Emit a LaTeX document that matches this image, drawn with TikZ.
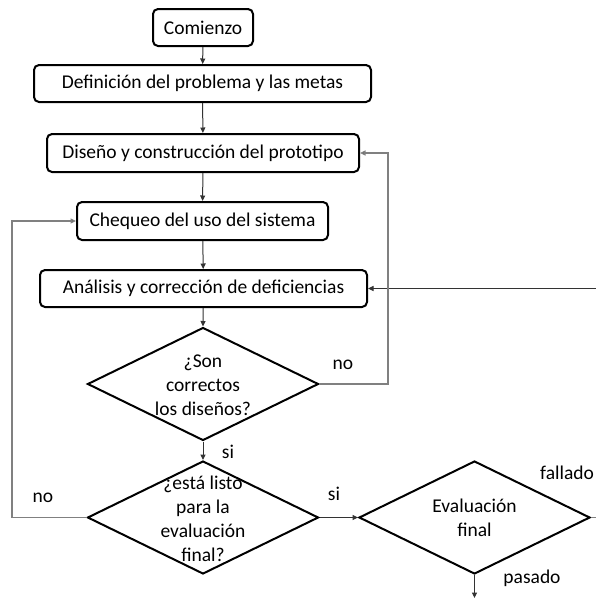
\documentclass[tikz,border=0pt]{standalone}
\usepackage{fontspec}
\setmainfont{Carlito}
\usetikzlibrary{shapes.geometric,arrows.meta}
\begin{document}
\begin{tikzpicture}[x=1pt,y=-1pt,
  txt/.style={font=\fontsize{19.5}{24}\selectfont, inner sep=0pt, align=center},
  stepbox/.style={draw=black, line width=2pt, rounded corners=5pt, inner sep=0pt,
    font=\fontsize{19.5}{24}\selectfont},
  decision/.style={draw=black, line width=2pt, diamond, inner sep=0pt,
    minimum width=231pt, minimum height=113pt},
  flow/.style={draw=black!80, line width=1pt, -{Triangle[length=5.5pt,width=5pt]}},
  loopline/.style={draw=black!50, line width=1.3pt},
  looparrow/.style={loopline, -{Triangle[length=5.5pt,width=5pt,fill=black]}}
]
\useasboundingbox (0,0) rectangle (596,598);

% process boxes
\node[stepbox, minimum width=100pt, minimum height=37pt] (start) at (203,27.5) {Comienzo};
\node[stepbox, minimum width=337pt, minimum height=37pt] (def) at (202.5,83.5) {Definición del problema y las metas};
\node[stepbox, minimum width=312pt, minimum height=38pt] (dis) at (203,153) {Diseño y construcción del prototipo};
\node[stepbox, minimum width=251pt, minimum height=38pt] (cheq) at (202.5,221) {Chequeo del uso del sistema};
\node[stepbox, minimum width=327pt, minimum height=37pt] (ana) at (203.5,288.5) {Análisis y corrección de deficiencias};

% decisions
\node[decision] (d1) at (203,384) {};
\node[txt] (d1t) at (203,385.5) {¿Son\\correctos\\los diseños?};
\node[decision] (d2) at (203,517.5) {};
\node[txt] (d2t) at (203,518.5) {¿está listo\\para la\\evaluación\\final?};
\node[decision] (d3) at (474.5,517.5) {};
\node[txt] (d3t) at (474.5,518) {Evaluación\\final};

% free ends at the border
\coordinate (rloop) at (388,384);
\coordinate (lloop) at (12,517.5);
\coordinate (inR) at (596,288.5);
\coordinate (outB) at (474.5,598);
\coordinate (outR) at (596,517.5);

% main flow
\draw[flow] (start) -- (def);
\draw[flow] (def) -- (dis);
\draw[flow] (dis) -- (cheq);
\draw[flow] (cheq) -- (ana);
\draw[flow] (ana) -- (d1.north);
\draw[flow] (d1.south) -- (d2.north);
\draw[flow] (d2.east) -- (d3.west);
\draw[flow] (d3.south) -- (outB);
\draw[flow] (inR) -- (ana.east);

% loops back
\draw[looparrow] (d1.east) -- (rloop) |- (dis.east);
\draw[looparrow] (d2.west) -- (lloop) |- (cheq.west);
\draw[loopline] (d3.east) -- (outR);

% branch labels
\node[txt] (l1) at (343,365) {no};
\node[txt] (l2) at (228,452) {si};
\node[txt] (l3) at (43,498) {no};
\node[txt] (l4) at (334,494) {si};
\node[txt, anchor=west] (l5) at (540,473) {fallado};
\node[txt] (l6) at (532,578) {pasado};
\end{tikzpicture}
\end{document}
